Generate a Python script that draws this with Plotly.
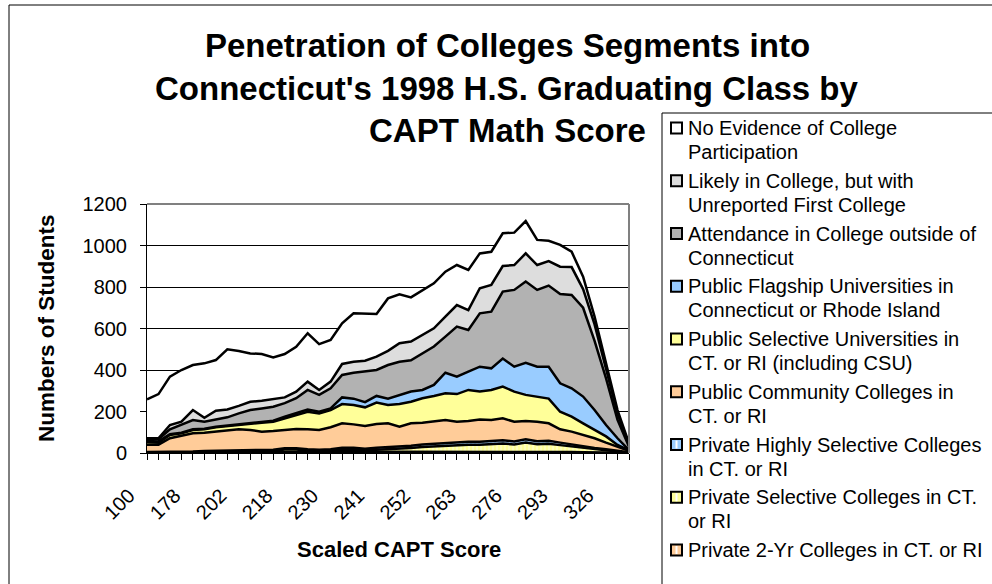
import plotly.graph_objects as go

# 43 score slots on the category axis; every 4th one carries a label
score_labels = ["100", "178", "202", "218", "230", "241", "252", "263", "276", "293", "326"]
slots = list(range(43))

# series, bottom of the stack first
private_2yr = [2, 2, 2, 2, 3, 4, 4, 5, 5, 5, 5, 5, 5, 5, 6, 5, 5, 6, 6, 5, 6, 6, 6, 6, 7, 7, 7, 8, 8, 7,
               8, 8, 7, 8, 7, 7, 6, 5, 4, 4, 3, 2, 1]
private_selective = [0, 0, 0, 0, 0, 1, 2, 2, 3, 3, 3, 5, 12, 12, 5, 4, 6, 10, 10, 8, 10, 12, 14, 18, 22, 25,
                     28, 30, 32, 33, 35, 38, 34, 42, 35, 38, 32, 26, 20, 14, 10, 5, 2]
private_highly = [3, 3, 3, 3, 4, 5, 5, 5, 5, 5, 6, 6, 6, 6, 7, 7, 7, 9, 9, 8, 9, 10, 10, 11, 12, 12, 13, 14,
                  14, 14, 15, 16, 14, 16, 15, 14, 12, 10, 8, 6, 5, 3, 1]
public_community = [35, 35, 66, 77, 88, 88, 92, 99, 101, 98, 89, 90, 88, 93, 96, 95, 106, 118, 113, 109, 115,
                    115, 97, 108, 105, 107, 111, 99, 100, 108, 101, 105, 96, 88, 94, 84, 64, 62, 55, 47, 32, 20, 7]
public_selective = [12, 10, 16, 13, 16, 16, 21, 19, 21, 32, 43, 45, 56, 67, 85, 80, 83, 93, 93, 90, 103, 88,
                    109, 104, 118, 124, 129, 133, 150, 134, 145, 153, 145, 126, 121, 119, 85, 72, 56, 40, 30, 9, 2]
public_flagship = [6, 6, 4, 3, 3, 3, 3, 3, 4, 4, 5, 5, 8, 10, 10, 8, 8, 32, 31, 25, 32, 31, 44, 49, 40, 53,
                   99, 84, 88, 120, 104, 135, 120, 155, 144, 154, 137, 137, 129, 96, 55, 32, 1]
outside_ct = [8, 10, 23, 37, 45, 34, 35, 39, 52, 60, 64, 67, 65, 71, 95, 81, 97, 108, 125, 147, 125, 162, 160,
              151, 176, 185, 174, 241, 201, 257, 273, 323, 370, 391, 370, 391, 430, 450, 428, 333, 225, 89, 16]
likely = [5, 5, 21, 16, 48, 19, 42, 38, 36, 40, 37, 36, 28, 32, 40, 24, 32, 53, 53, 53, 64, 68, 89, 90, 89, 88,
          96, 104, 96, 121, 129, 123, 120, 136, 120, 118, 132, 134, 90, 80, 45, 30, 10]
no_evidence = [188, 213, 233, 249, 217, 262, 244, 290, 265, 233, 225, 202, 209, 216, 233, 221, 201, 196, 233,
               228, 206, 253, 236, 213, 217, 217, 217, 193, 193, 168, 160, 158, 156, 156, 121, 98, 105, 74, 60,
               37, 27, 17, 7]

series = [private_2yr, private_selective, private_highly, public_community, public_selective,
          public_flagship, outside_ct, likely, no_evidence]
names = [
    "Private 2-Yr Colleges in CT. or RI",
    "Private Selective Colleges in CT.<br>or RI",
    "Private Highly Selective Colleges<br>in CT. or RI",
    "Public Community Colleges in<br>CT. or RI",
    "Public Selective Universities in<br>CT. or RI (including CSU)",
    "Public Flagship Universities in<br>Connecticut or Rhode Island",
    "Attendance in College outside of<br>Connecticut",
    "Likely in College, but with<br>Unreported First College",
    "No Evidence of College<br>Participation",
]
colors = ["#FFCC99", "#FFFF99", "#99CCFF", "#FFCC99", "#FFFF99", "#99CCFF", "#B2B2B2", "#DDDDDD", "#FFFFFF"]
striped = [True, True, True, False, False, False, False, False, False]

FONT = "Arial, Liberation Sans, sans-serif"

# plot area in pixels
L, R, T, B = 147, 629, 204, 453


def xp(px):
    return (px - L) / (R - L)


def yp(py):
    return (B - py) / (B - T)


fig = go.Figure()
for vals, name, col, pat in zip(series, names, colors, striped):
    kw = {}
    if pat:
        kw["fillpattern"] = dict(shape="|", bgcolor=col, fgcolor="white", size=4, solidity=0.35)
    fig.add_trace(go.Scatter(
        x=slots, y=vals, name=name.replace("<br>", " "),
        mode="lines", stackgroup="one",
        line=dict(color="black", width=2.5),
        fillcolor=col, showlegend=False, **kw
    ))

shapes = [
    # chart border
    dict(type="rect", xref="paper", yref="paper", x0=xp(9), x1=xp(1010), y0=yp(610), y1=yp(5),
         line=dict(color="black", width=1), layer="below"),
    # plot area border (top / right)
    dict(type="line", xref="paper", yref="paper", x0=0, x1=1, y0=1, y1=1,
         line=dict(color="#808080", width=2)),
    dict(type="line", xref="paper", yref="paper", x0=1, x1=1, y0=0, y1=1,
         line=dict(color="#808080", width=2)),
    # legend box
    dict(type="rect", xref="paper", yref="paper", x0=xp(662), x1=xp(1010), y0=yp(610), y1=yp(113),
         line=dict(color="black", width=1)),
]

annotations = []
title_lines = ["Penetration of Colleges Segments into",
               "Connecticut's 1998 H.S. Graduating Class by",
               "CAPT Math Score"]
for line, ty in zip(title_lines, [45, 88, 130]):
    annotations.append(dict(text="<b>%s</b>" % line, x=xp(507), y=yp(ty), xref="paper", yref="paper",
                            showarrow=False, xanchor="center", yanchor="middle",
                            font=dict(family=FONT, size=33, color="black")))

annotations.append(dict(text="<b>Numbers of Students</b>", x=xp(46), y=yp(328), xref="paper", yref="paper",
                        showarrow=False, textangle=-90, xanchor="center", yanchor="middle",
                        font=dict(family=FONT, size=22.5, color="black")))
annotations.append(dict(text="<b>Scaled CAPT Score</b>", x=xp(399), y=yp(549), xref="paper", yref="paper",
                        showarrow=False, xanchor="center", yanchor="middle",
                        font=dict(family=FONT, size=22, color="black")))

# legend, top of the stack first
for k, idx in enumerate(reversed(range(len(names)))):
    cy = 128 + 52.75 * k
    shapes.append(dict(type="rect", xref="paper", yref="paper",
                       x0=xp(671), x1=xp(682), y0=yp(cy + 5.5), y1=yp(cy - 5.5),
                       fillcolor=colors[idx], line=dict(color="black", width=2)))
    if striped[idx]:
        shapes.append(dict(type="line", xref="paper", yref="paper",
                           x0=xp(676.5), x1=xp(676.5), y0=yp(cy + 4), y1=yp(cy - 4),
                           line=dict(color="white", width=2)))
    for j, part in enumerate(names[idx].split("<br>")):
        annotations.append(dict(text=part, x=xp(686), y=yp(cy + 24 * j), xref="paper", yref="paper",
                                showarrow=False, xanchor="left", yanchor="middle",
                                font=dict(family=FONT, size=20, color="black")))

fig.update_layout(
    width=992, height=584, autosize=False,
    margin=dict(l=L, r=992 - R, t=T, b=584 - B, pad=0),
    paper_bgcolor="white", plot_bgcolor="white",
    showlegend=False,
    shapes=shapes, annotations=annotations,
    font=dict(family=FONT, color="black"),
)
fig.update_xaxes(
    range=[0, 42], tickmode="array", tickvals=slots[::4][:len(score_labels)], ticktext=score_labels,
    tickangle=-45, ticks="outside", ticklen=6, tickwidth=1, tickcolor="black",
    minor=dict(tickmode="array", tickvals=slots, ticks="outside", ticklen=6, tickwidth=1,
               tickcolor="black", showgrid=False),
    showline=True, linecolor="black", linewidth=1, showgrid=False, zeroline=False,
    tickfont=dict(family=FONT, size=20, color="black"),
    ticklabelstandoff=16, ticklabelshift=-18, automargin=False,
)
fig.update_yaxes(
    range=[0, 1200], tick0=0, dtick=200, ticks="outside", ticklen=6, tickcolor="black",
    showline=True, linecolor="black", linewidth=1,
    showgrid=True, gridcolor="black", gridwidth=1, zeroline=False,
    tickfont=dict(family=FONT, size=20, color="black"),
    ticklabelstandoff=9, automargin=False,
)

# drop the page's default body margin so the figure sits at the window origin
fig.write_html("out.html", config={"displayModeBar": False},
               post_script="document.body.style.margin = '0';")
